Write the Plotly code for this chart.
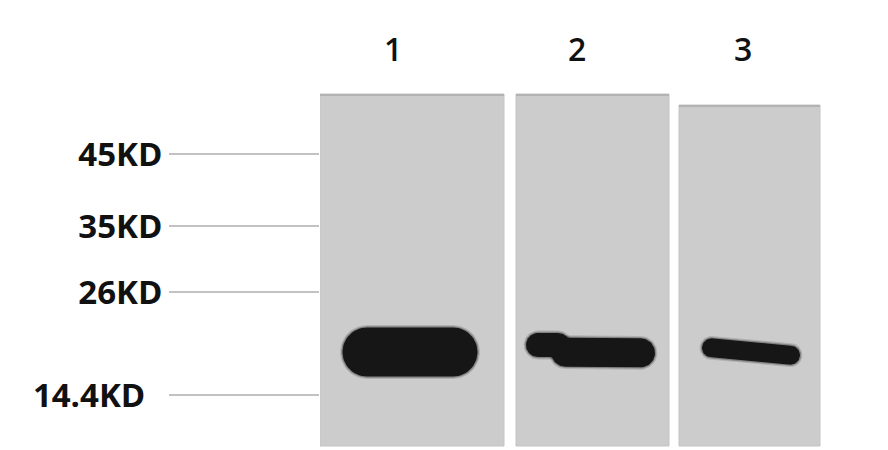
import numpy as np
import plotly.graph_objects as go

# lanes and ladder
lanes = ["1", "2", "3"]
marker_labels = ["45KD", "35KD", "26KD", "14.4KD"]
marker_rows = [154, 226, 292, 395]   # migration distance (px from top of picture)

# detected bands: centre along lane, migration, length, thickness, tilt (px over length)
band_x = [410, 548, 603, 751]
band_row = [352, 345, 352.5, 351.5]
band_len = [135, 44, 104, 98]
band_thick = [49, 24, 29, 19]
band_tilt = [0, 0, 1, 9]

# membrane strips (layout, not data)
panels = [(320, 504, 94), (516, 669, 94), (679, 820, 105)]
panel_bottom = 446
lane_label_x = [393, 577, 743]
label_pad = [0, 0, 0, 2]   # extra gap before the ladder line, in no-break spaces

FONT = "Open Sans"


def stadium(cx, cy, length, thick, tilt, grow=0.0):
    """outline of a rounded band, optionally grown for a soft edge"""
    r = thick / 2 + grow
    half = length / 2 - thick / 2
    slope = tilt / max(length, 1)
    t = np.linspace(-np.pi / 2, np.pi / 2, 30)
    right_x = cx + half + r * np.cos(t)
    right_y = cy + half * slope + r * np.sin(t)
    left_x = cx - half - r * np.cos(t)
    left_y = cy - half * slope - r * np.sin(t)
    xs = np.concatenate([right_x, left_x, right_x[:1]])
    ys = np.concatenate([right_y, left_y, right_y[:1]])
    return xs, ys


fig = go.Figure()

for x0, x1, top in panels:
    fig.add_shape(type="rect", x0=x0, x1=x1, y0=top, y1=panel_bottom,
                  xref="x", yref="y", fillcolor="#cccccc",
                  line=dict(color="#c4c4c4", width=1), layer="below")
    fig.add_shape(type="line", x0=x0, x1=x1, y0=top + 1, y1=top + 1,
                  xref="x", yref="y", line=dict(color="#b3b3b3", width=2),
                  layer="below")

# soft edge (a few faint rings) then solid core for each band
for grow, alpha in [(2.4, 0.15), (1.2, 0.3), (0.0, 1.0)]:
    for i in range(len(band_x)):
        xs, ys = stadium(band_x[i], band_row[i], band_len[i],
                         band_thick[i], band_tilt[i], grow)
        fig.add_trace(go.Scatter(
            x=xs, y=ys, mode="lines", fill="toself",
            fillcolor=f"rgba(22,22,22,{alpha})", line=dict(width=0),
            hoverinfo="skip", showlegend=False))

for name, lx in zip(lanes, lane_label_x):
    fig.add_annotation(x=lx, y=48, xref="x", yref="y", text=name,
                       showarrow=False,
                       font=dict(family=FONT, size=32, color="#111111", weight=600))

ticktext = [lab + "\u00a0" * p for lab, p in zip(marker_labels, label_pad)]

fig.update_xaxes(domain=[320 / 888, 1], range=[320, 888], visible=False, fixedrange=True)
fig.update_yaxes(
    range=[450, 0], showgrid=False, zeroline=False, showline=False,
    tickmode="array", tickvals=marker_rows, ticktext=ticktext,
    ticks="outside", ticklen=150, tickwidth=2, tickcolor="#c2c2c2",
    tickfont=dict(family=FONT, size=33, color="#111111", weight="bold"),
    fixedrange=True)

fig.update_layout(
    width=888, height=450, margin=dict(l=0, r=0, t=0, b=0),
    paper_bgcolor="white", plot_bgcolor="white", showlegend=False)

# page body has an 8px default margin; drop it so the figure sits at the corner
fig.write_html("out.html", config={"displayModeBar": False},
               post_script="document.body.style.margin='0';")
